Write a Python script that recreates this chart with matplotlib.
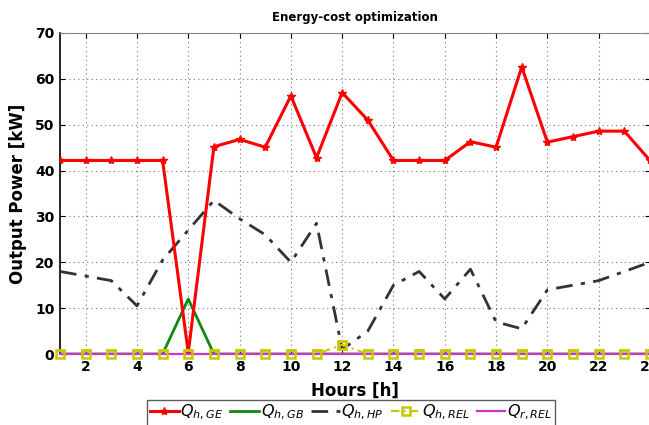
import numpy as np
import matplotlib.pyplot as plt

hours = np.arange(1, 25)
q_h_ge = [42.2, 42.2, 42.2, 42.2, 42.2, 0.3, 45.2, 46.8, 45.1, 56.3, 42.8, 57.0,
          51.0, 42.2, 42.2, 42.2, 46.3, 45.1, 62.6, 46.2, 47.4, 48.6, 48.6, 42.2]
q_h_gb = [0, 0, 0, 0, 0, 12.0, 0, 0, 0, 0, 0, 0, 0, 0, 0, 0, 0, 0, 0, 0, 0, 0, 0, 0]
q_h_hp = [18.0, 17.0, 16.0, 10.5, 20.5, 27.0, 33.5, 29.5, 26.0, 20.0, 28.5, 1.0,
          5.0, 15.0, 18.0, 12.0, 18.5, 7.0, 5.5, 14.0, 15.0, 16.0, 18.0, 20.0]
q_h_rel = [0, 0, 0, 0, 0, 0, 0, 0, 0, 0, 0, 2.0, 0, 0, 0, 0, 0, 0, 0, 0, 0, 0, 0, 0]
q_r_rel = [0] * 24

YEL = "#c8c800"

fig = plt.figure(figsize=(6.49, 4.25), dpi=100)
ax = fig.add_axes([60 / 649, 71 / 425, 590 / 649, 321 / 425])

ax.plot(hours, q_h_gb, color="#118811", lw=2, label=r"$Q_{h,GB}$", zorder=3)
ax.plot(hours, q_h_hp, color="#333333", lw=2, ls=(0, (6, 3, 1.5, 3)), label=r"$Q_{h,HP}$", zorder=3)
ax.plot(hours, q_h_ge, color="red", lw=2.2, marker="*", ms=6, label=r"$Q_{h,GE}$", zorder=4)
ax.plot(hours, q_h_rel, color=YEL, lw=1.5, ls=(0, (4, 2, 1, 2)), marker="s", ms=6,
        mfc="none", mec=YEL, mew=1.8, label=r"$Q_{h,REL}$", zorder=4)
ax.plot(hours, q_r_rel, color="#cc33cc", lw=1.6, label=r"$Q_{r,REL}$", zorder=5, clip_on=False)
# squares sit on top of the magenta line
ax.plot(hours, q_h_rel, ls="none", marker="s", ms=6, mfc="none", mec=YEL, mew=1.8,
        zorder=6, clip_on=False)

ax.set_xlim(1, 24)
ax.set_ylim(0, 70)
ax.set_xticks(range(2, 25, 2))
ax.set_yticks(range(0, 71, 10))
ax.grid(True, ls=(0, (1, 3)), color="#777777", lw=0.8)
ax.tick_params(direction="in", top=True, right=True, labelsize=10, pad=4)
for lbl in ax.get_xticklabels() + ax.get_yticklabels():
    lbl.set_fontweight("bold")
for s in ["top", "right"]:
    ax.spines[s].set_color("#888888")
ax.spines["left"].set_linewidth(1.2)
ax.spines["bottom"].set_linewidth(1.2)

ax.set_title("Energy-cost optimization", fontsize=8.5, fontweight="bold", pad=9)
ax.set_xlabel("Hours [h]", fontsize=12, fontweight="bold", labelpad=6)
ax.set_ylabel("Output Power [kW]", fontsize=12, fontweight="bold", labelpad=6)

h, l = ax.get_legend_handles_labels()
order = [2, 0, 1, 3, 4]
leg = fig.legend([h[i] for i in order], [l[i] for i in order], loc="upper center",
                 bbox_to_anchor=(351 / 649, 0.078), ncol=5, fontsize=11.5, frameon=True,
                 fancybox=False, edgecolor="#333333", handlelength=1.8, handletextpad=0.1,
                 columnspacing=0.45, borderpad=0.2)

fig.savefig("out.png", dpi=100)
